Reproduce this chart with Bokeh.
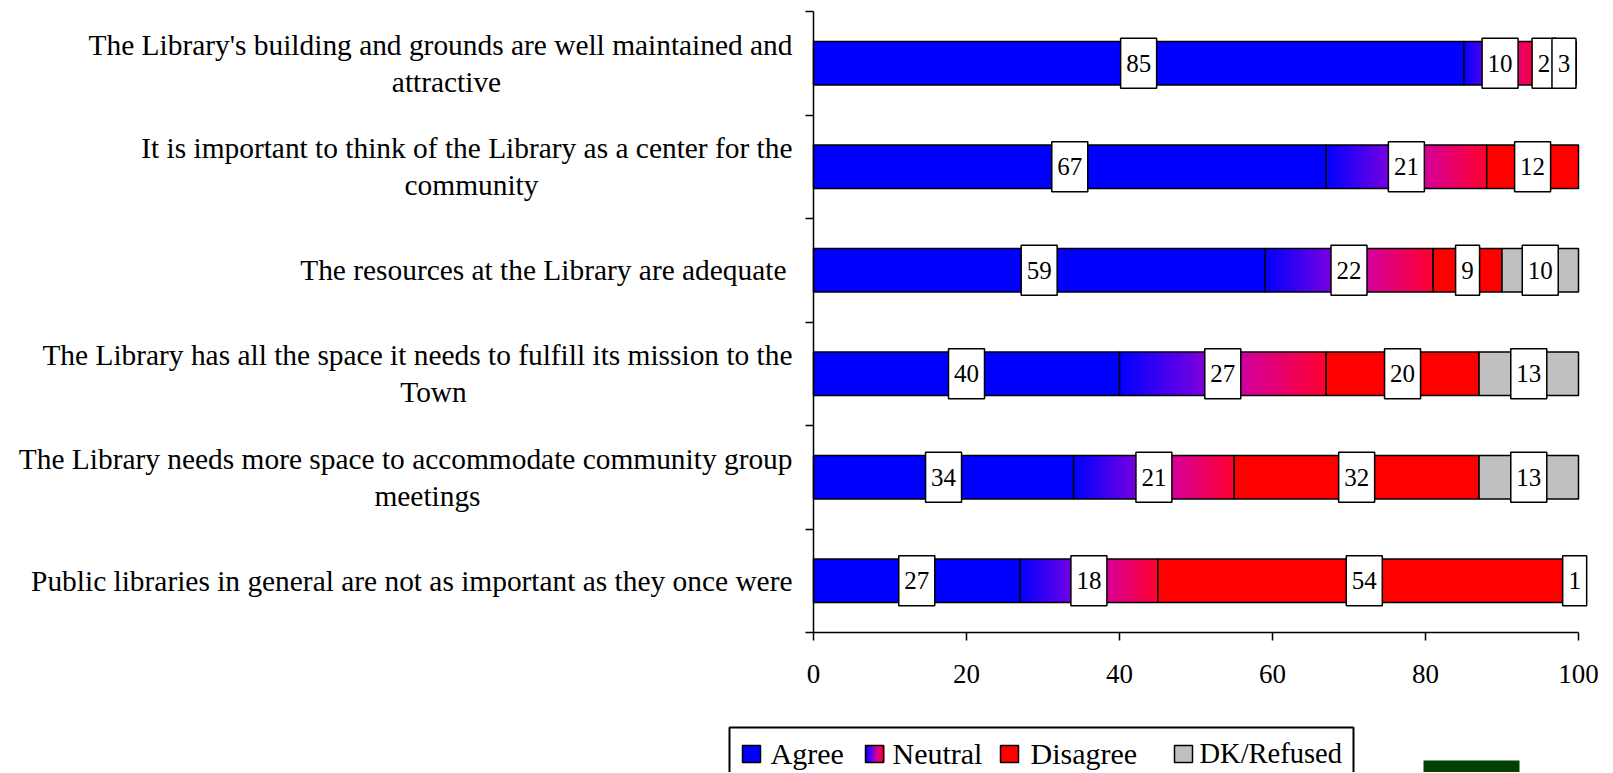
from bokeh.plotting import figure
from bokeh.models import Range1d, FixedTicker, Label, BoxAnnotation, ColumnDataSource
from bokeh.core.properties import value
from bokeh.embed import file_html
from bokeh.resources import INLINE

# ---------------- data ----------------
categories = [
    "The Library's building and grounds are well maintained and\nattractive",
    "It is important to think of the Library as a center for the\ncommunity",
    "The resources at the Library are adequate ",
    "The Library has all the space it needs to fulfill its mission to the\nTown",
    "The Library needs more space to accommodate community group\nmeetings",
    "Public libraries in general are not as important as they once were",
]
series_names = ["Agree", "Neutral", "Disagree", "DK/Refused"]
agree = [85, 67, 59, 40, 34, 27]
neutral = [9.5, 21, 22, 27, 21, 18]
disagree = [2, 12, 9, 20, 32, 54]
dk_refused = [3.2, 0, 10, 13, 13, 1]
x_ticks = [0, 20, 40, 60, 80, 100]

# ---------------- layout / style ----------------
FONT = "Liberation Serif"
W, H = 1612, 772
n = len(categories)
X0_PX, X100_PX = 813, 1578      # page x of value 0 and 100
YTOP_PX, YBOT_PX = 11, 632      # page y of top and bottom of category axis
PXU_X = (X100_PX - X0_PX) / 100.0
PXU_Y = (YBOT_PX - YTOP_PX) / n

x_start = -X0_PX / PXU_X
x_end = x_start + W / PXU_X
y_end = n + YTOP_PX / PXU_Y
y_start = y_end - H / PXU_Y

def dx(page_x):
    return (page_x - X0_PX) / PXU_X

def dy(page_y):
    return (YBOT_PX - page_y) / PXU_Y

STOPS = [(0.0, (0, 0, 255)), (0.37, (112, 0, 226)), (0.63, (215, 0, 150)), (1.0, (255, 0, 48))]

def grad(t):
    for (t0, c0), (t1, c1) in zip(STOPS[:-1], STOPS[1:]):
        if t <= t1:
            f = (t - t0) / (t1 - t0)
            c = [round(a + (b - a) * f) for a, b in zip(c0, c1)]
            return "#%02x%02x%02x" % tuple(c)
    return "#%02x%02x%02x" % STOPS[-1][1]

COLORS = {"Agree": "#0000FF", "Disagree": "#FF0000", "DK/Refused": "#C0C0C0"}

p = figure(width=W, height=H, x_range=Range1d(x_start, x_end), y_range=Range1d(y_start, y_end),
           output_backend="svg", toolbar_location=None,
           min_border_left=0, min_border_right=0, min_border_top=0, min_border_bottom=0,
           background_fill_color="white", border_fill_color="white")
p.outline_line_color = None
p.xgrid.visible = False
p.ygrid.visible = False

yc = [n - 0.5 - i for i in range(n)]
BAR_H = 43.5 / PXU_Y

series = [agree, neutral, disagree, dk_refused]
lefts = []
acc = [0.0] * n
for s in series:
    lefts.append(list(acc))
    acc = [a + v for a, v in zip(acc, s)]

for name, s, lf in zip(series_names, series, lefts):
    idx = [i for i in range(n) if s[i] > 0]
    ys = [yc[i] for i in idx]
    L = [lf[i] for i in idx]
    R = [lf[i] + s[i] for i in idx]
    if name == "Neutral":
        gy, gl, gr, gc = [], [], [], []
        for i in idx:
            ns = max(8, int(s[i] * PXU_X / 2))
            w = s[i] / ns
            for k in range(ns):
                gy.append(yc[i])
                gl.append(lf[i] + k * w)
                gr.append(min(lf[i] + (k + 2) * w, lf[i] + s[i]))
                gc.append(grad((k + 0.5) / ns))
        p.hbar(y=gy, left=gl, right=gr, height=BAR_H, fill_color=gc, line_color=None)
        p.hbar(y=ys, left=L, right=R, height=BAR_H, fill_color=None,
               line_color="black", line_width=1.5)
    else:
        p.hbar(y=ys, left=L, right=R, height=BAR_H, fill_color=COLORS[name],
               line_color="black", line_width=1.5)

# value labels
lx, ly, lt, lw = [], [], [], []
for s, lf in zip(series, lefts):
    for i in range(n):
        if s[i] > 0:
            t = str(round(s[i]))
            lx.append(lf[i] + s[i] / 2)
            ly.append(yc[i])
            lt.append(t)
            lw.append(12 + 12 * len(t))
src = ColumnDataSource(dict(x=lx, y=ly, t=lt, w=lw))
p.rect(x="x", y="y", width="w", height=50, width_units="screen", height_units="screen",
       source=src, fill_color="white", line_color="black", line_width=1.5)
p.text(x="x", y="y", text="t", source=src, text_align="center", text_baseline="middle",
       text_font=value(FONT), text_font_size=value("25px"), text_color="black")

# axes (fixed at value 0)
xa = p.xaxis[0]
xa.fixed_location = 0
xa.ticker = FixedTicker(ticks=x_ticks)
xa.bounds = (0, 100)
xa.axis_line_width = 1.5
xa.axis_line_color = "black"
xa.major_tick_line_width = 1.5
xa.major_tick_line_color = "black"
xa.major_tick_out = 8
xa.major_tick_in = 0
xa.minor_tick_line_color = None
xa.major_label_text_font = FONT
xa.major_label_text_font_size = "27px"
xa.major_label_text_color = "black"
xa.major_label_standoff = 24

ya = p.yaxis[0]
ya.fixed_location = 0
ya.ticker = FixedTicker(ticks=list(range(n + 1)))
ya.bounds = (0, n)
ya.axis_line_width = 1.5
ya.axis_line_color = "black"
ya.major_tick_line_width = 1.5
ya.major_tick_line_color = "black"
ya.major_tick_out = 8
ya.major_tick_in = 0
ya.minor_tick_line_color = None
ya.major_label_overrides = {i: "" for i in range(n + 1)}
ya.major_label_text_font_size = "0px"

# category labels
CAT_FS = "29.4px"
line1_right = [792, 792, 786, 792, 792, 792]
line2_center = [446, 471, None, 433, 427, None]
LINE_OFF = 18.5 / PXU_Y
for i, cat in enumerate(categories):
    parts = [s.strip() for s in cat.split("\n")]
    if len(parts) == 1:
        p.add_layout(Label(x=dx(line1_right[i]), y=yc[i], text=parts[0], text_align="right",
                           text_baseline="middle", text_font=FONT, text_font_size=CAT_FS,
                           text_color="black"))
    else:
        p.add_layout(Label(x=dx(line1_right[i]), y=yc[i] + LINE_OFF, text=parts[0],
                           text_align="right", text_baseline="middle", text_font=FONT,
                           text_font_size=CAT_FS, text_color="black"))
        p.add_layout(Label(x=dx(line2_center[i]), y=yc[i] - LINE_OFF, text=parts[1],
                           text_align="center", text_baseline="middle", text_font=FONT,
                           text_font_size=CAT_FS, text_color="black"))

# legend (manual, so that the Neutral swatch can carry its gradient)
def box(l, r, t, b, fill, line=None, lw=1.5):
    kw = dict(left=dx(l), right=dx(r), top=dy(t), bottom=dy(b), fill_color=fill,
              fill_alpha=1.0 if fill else 0.0, level="overlay")
    if line:
        kw.update(line_color=line, line_width=lw, line_alpha=1.0)
    else:
        kw.update(line_color=None)
    p.add_layout(BoxAnnotation(**kw))

box(729, 1353, 727, 800, "white", "black", 2)
sw_x = [742, 865, 1000, 1174]
tx_x = [770, 892, 1030, 1199]
tx_fs = ["30px", "30px", "30px", "28.5px"]
SW_T, SW_B = 745, 762
for name, sx, tx, fs in zip(series_names, sw_x, tx_x, tx_fs):
    if name == "Neutral":
        NSW = 18
        for k in range(NSW):
            box(sx + k, sx + k + 2, SW_T, SW_B, grad((k + 0.5) / NSW))
        box(sx, sx + 18, SW_T, SW_B, None, "black", 1.5)
    else:
        box(sx, sx + 18, SW_T, SW_B, COLORS[name], "black", 1.5)
    p.add_layout(Label(x=dx(tx), y=dy(753), text=name, text_align="left", text_baseline="middle",
                       text_font=FONT, text_font_size=fs, text_color="black",
                       level="overlay"))

box(1423, 1519, 760, 800, "#004000")

open("out.html", "w").write(file_html(p, INLINE))
